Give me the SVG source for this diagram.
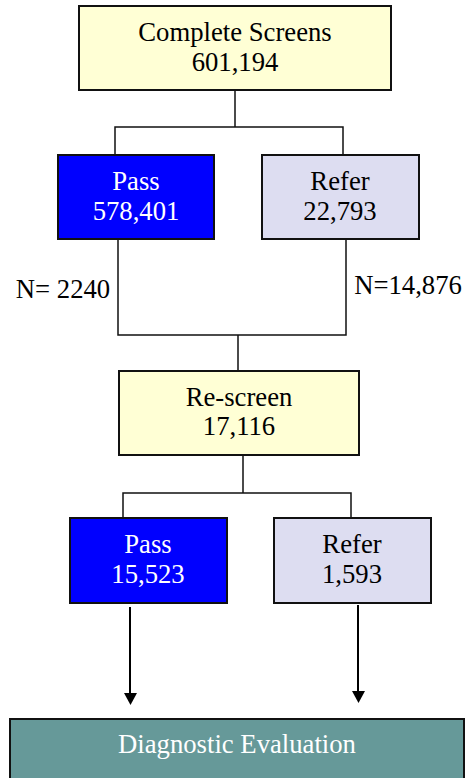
<svg xmlns="http://www.w3.org/2000/svg" width="472" height="778" viewBox="0 0 472 778">
<style>
.box{stroke:#111;stroke-width:2}
.y{fill:#FFFFD5}
.b{fill:#0000FF}
.l{fill:#DDDDF1}
.g{fill:#669999}
text{font-family:"Liberation Serif","Times New Roman",serif;font-size:26.7px;text-anchor:middle}
.w{fill:#fff}
.k{fill:#000}
.c{fill:none;stroke:#111;stroke-width:1.5}
</style>
<rect width="472" height="778" fill="#fff"/>
<g id="connectors">
<path class="c" d="M235,90 V127 M115,155 V127 H343 V155"/>
<path class="c" d="M118,239 V335 H346 V239 M238,335 V371"/>
<path class="c" d="M243,455 V493 M123,518 V493 H351 V518"/>
<path d="M130,607 V693" stroke="#000" stroke-width="2"/>
<path d="M124,693 H137 L130.5,705 Z" fill="#000"/>
<path d="M358,605 V691" stroke="#000" stroke-width="2"/>
<path d="M352,691 H365 L358.5,703 Z" fill="#000"/>
</g>
<g id="complete">
<rect class="box y" x="79" y="6" width="312" height="84"/>
<text class="k" x="235" y="41">Complete Screens</text>
<text class="k" x="235" y="71">601,194</text>
</g>
<g id="pass1">
<rect class="box b" x="58" y="155" width="156" height="84"/>
<text class="w" x="136" y="190">Pass</text>
<text class="w" x="136" y="220">578,401</text>
</g>
<g id="refer1">
<rect class="box l" x="262" y="155" width="157" height="84"/>
<text class="k" x="340" y="190">Refer</text>
<text class="k" x="340" y="220">22,793</text>
</g>
<g id="label1"><text class="k" x="63" y="298">N= 2240</text></g>
<g id="label2"><text class="k" x="408" y="294">N=14,876</text></g>
<g id="rescreen">
<rect class="box y" x="119" y="371" width="240" height="84"/>
<text class="k" x="239" y="406">Re-screen</text>
<text class="k" x="239" y="435">17,116</text>
</g>
<g id="pass2">
<rect class="box b" x="70" y="518" width="157" height="85"/>
<text class="w" x="148" y="553">Pass</text>
<text class="w" x="148" y="583">15,523</text>
</g>
<g id="refer2">
<rect class="box l" x="274" y="518" width="157" height="85"/>
<text class="k" x="352" y="553">Refer</text>
<text class="k" x="352" y="583">1,593</text>
</g>
<g id="diagnostic">
<rect class="box g" x="10" y="719" width="454" height="80"/>
<text class="w" x="237" y="753">Diagnostic Evaluation</text>
</g>
</svg>
